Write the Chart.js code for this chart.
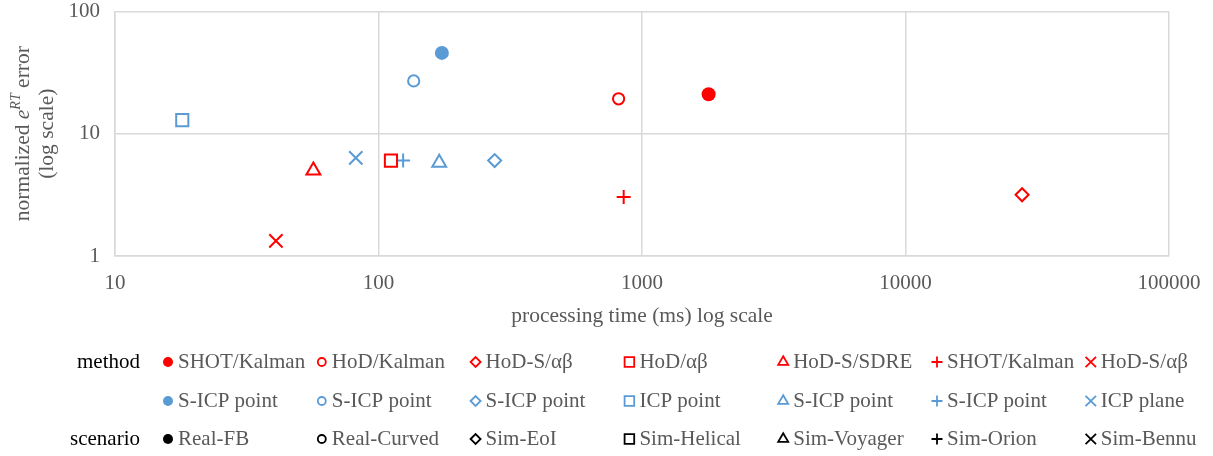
<!DOCTYPE html>
<html lang="en">
<head>
    <meta charset="UTF-8">
    <title>processing time vs normalized error</title>
    <script src="https://cdn.jsdelivr.net/npm/chart.js"></script>
    <style>
        body { margin: 0; background: #fff; }
        canvas { display: block; }
    </style>
</head>
<body>
<canvas id="scatter" width="1213" height="456"></canvas>
<script>
    // scenario order is shared by both method groups
    const scenarios = ['Real-FB', 'Real-Curved', 'Sim-EoI', 'Sim-Helical', 'Sim-Voyager', 'Sim-Orion', 'Sim-Bennu'];

    // feature based methods (red)
    const baseMethods = ['SHOT/Kalman', 'HoD/Kalman', 'HoD-S/αβ', 'HoD/αβ', 'HoD-S/SDRE', 'SHOT/Kalman', 'HoD-S/αβ'];
    const baseTime = [1790, 815, 27700, 111.5, 56.6, 852, 40.8];
    const baseError = [21.0, 19.3, 3.17, 6.03, 5.0, 3.04, 1.33];

    // ICP based methods (blue)
    const icpMethods = ['S-ICP point', 'S-ICP point', 'S-ICP point', 'ICP point', 'S-ICP point', 'S-ICP point', 'ICP plane'];
    const icpTime = [174, 136, 276, 18, 170, 124, 82];
    const icpError = [45.8, 27.0, 6.03, 12.9, 5.8, 6.03, 6.34];

    const xTicks = [10, 100, 1000, 10000, 100000];
    const yTicks = [1, 10, 100];

    const RED = '#ff0000';
    const BLUE = '#5b9bd5';
    const GREY_TEXT = '#595959';
    const GRID = '#d9d9d9';
    const SERIF = '"Liberation Serif", "Times New Roman", serif';

    // one marker per scenario: style, filled?, radius in plot, radius in legend
    const markers = [
        {style: 'circle', filled: true, r: 7, lr: 5},
        {style: 'circle', filled: false, r: 5.6, lr: 4},
        {style: 'rectRot', filled: false, r: 6.5, lr: 5},
        {style: 'rect', filled: false, r: 8.6, lr: 6.8},
        {style: 'triangle', filled: false, r: 8, lr: 5.8},
        {style: 'cross', filled: false, r: 7, lr: 5.5},
        {style: 'crossRot', filled: false, r: 9.4, lr: 7.4},
    ];

    function makeDatasets(times, errors, names, color) {
        return scenarios.map((s, i) => ({
            label: names[i] + ' ' + s,
            data: [{x: times[i], y: errors[i]}],
            pointStyle: markers[i].style,
            pointRadius: markers[i].r,
            pointBorderWidth: markers[i].filled ? 0 : 2,
            pointBorderColor: color,
            pointBackgroundColor: markers[i].filled ? color : 'rgba(0,0,0,0)',
        }));
    }

    const decadeTicks = list => scale => {
        scale.ticks = list.map(v => ({value: v}));
    };

    // keep the plot box fixed: no extra room for overhanging tick labels
    const noOverhang = size => scale => {
        if (scale.isHorizontal()) scale.height = size; else scale.width = size;
        scale.paddingTop = scale.paddingBottom = 0;
        scale.paddingLeft = scale.paddingRight = 0;
    };

    // axis titles and the three-row legend under the plot
    const annotations = {
        id: 'annotations',
        afterDraw(chart) {
            const ctx = chart.ctx;
            const area = chart.chartArea;
            ctx.save();

            // x axis title
            ctx.fillStyle = GREY_TEXT;
            ctx.font = '21.5px ' + SERIF;
            ctx.textAlign = 'center';
            ctx.textBaseline = 'middle';
            ctx.fillText('processing time (ms) log scale', (area.left + area.right) / 2, 316);

            // y axis title, rotated, with italic e^RT
            const midY = (area.top + area.bottom) / 2;
            const parts = [
                {t: 'normalized ', f: '21.5px ' + SERIF, dy: 0},
                {t: 'e', f: 'italic 21.5px ' + SERIF, dy: 0},
                {t: 'RT', f: 'italic 14px ' + SERIF, dy: -7},
                {t: ' error', f: '21.5px ' + SERIF, dy: 0},
            ];
            let total = 0;
            parts.forEach(p => { ctx.font = p.f; p.w = ctx.measureText(p.t).width; total += p.w; });
            ctx.save();
            ctx.translate(23, midY);
            ctx.rotate(-Math.PI / 2);
            ctx.textAlign = 'left';
            let px = -total / 2;
            parts.forEach(p => { ctx.font = p.f; ctx.fillText(p.t, px, p.dy); px += p.w; });
            ctx.font = '21.5px ' + SERIF;
            ctx.textAlign = 'center';
            ctx.fillText('(log scale)', 0, 24);
            ctx.restore();

            // legend rows
            const rows = [
                {title: 'method', names: baseMethods, color: RED, y: 362},
                {title: '', names: icpMethods, color: BLUE, y: 401},
                {title: 'scenario', names: scenarios, color: '#000', y: 439},
            ];
            rows.forEach(row => {
                ctx.font = '21px ' + SERIF;
                ctx.textBaseline = 'middle';
                if (row.title) {
                    ctx.fillStyle = '#000';
                    ctx.textAlign = 'right';
                    ctx.fillText(row.title, 140, row.y);
                }
                row.names.forEach((name, i) => {
                    const mx = 168 + i * 153.8;
                    const m = markers[i];
                    ctx.fillStyle = m.filled ? row.color : 'rgba(0,0,0,0)';
                    ctx.strokeStyle = row.color;
                    ctx.lineWidth = m.filled ? 0 : 1.8;
                    Chart.helpers.drawPoint(ctx, {
                        pointStyle: m.style, rotation: 0, radius: m.lr, borderWidth: m.filled ? 0 : 1.8
                    }, mx, row.y);
                    ctx.fillStyle = GREY_TEXT;
                    ctx.textAlign = 'left';
                    ctx.fillText(name, mx + 10, row.y);
                });
            });
            ctx.restore();
        }
    };

    new Chart(document.getElementById('scatter'), {
        type: 'scatter',
        data: {
            datasets: makeDatasets(baseTime, baseError, baseMethods, RED)
                .concat(makeDatasets(icpTime, icpError, icpMethods, BLUE))
        },
        options: {
            responsive: false,
            animation: false,
            layout: {padding: {top: 10, right: 44, left: 0, bottom: 0}},
            plugins: {legend: {display: false}, tooltip: {enabled: false}},
            scales: {
                x: {
                    type: 'logarithmic',
                    min: 10,
                    max: 100000,
                    afterBuildTicks: decadeTicks(xTicks),
                    afterFit: noOverhang(200),
                    grid: {color: GRID, lineWidth: 1.5, drawTicks: false},
                    border: {color: GRID, width: 1.5},
                    ticks: {
                        color: GREY_TEXT, font: {family: SERIF, size: 21}, padding: 15,
                        maxRotation: 0, autoSkip: false,
                        callback: v => String(v)
                    }
                },
                y: {
                    type: 'logarithmic',
                    min: 1,
                    max: 100,
                    afterBuildTicks: decadeTicks(yTicks),
                    afterFit: noOverhang(115),
                    grid: {color: GRID, lineWidth: 1.5, drawTicks: false},
                    border: {color: GRID, width: 1.5},
                    ticks: {
                        color: GREY_TEXT, font: {family: SERIF, size: 21}, padding: 15,
                        callback: v => String(v)
                    }
                }
            }
        },
        plugins: [annotations]
    });
</script>
</body>
</html>
